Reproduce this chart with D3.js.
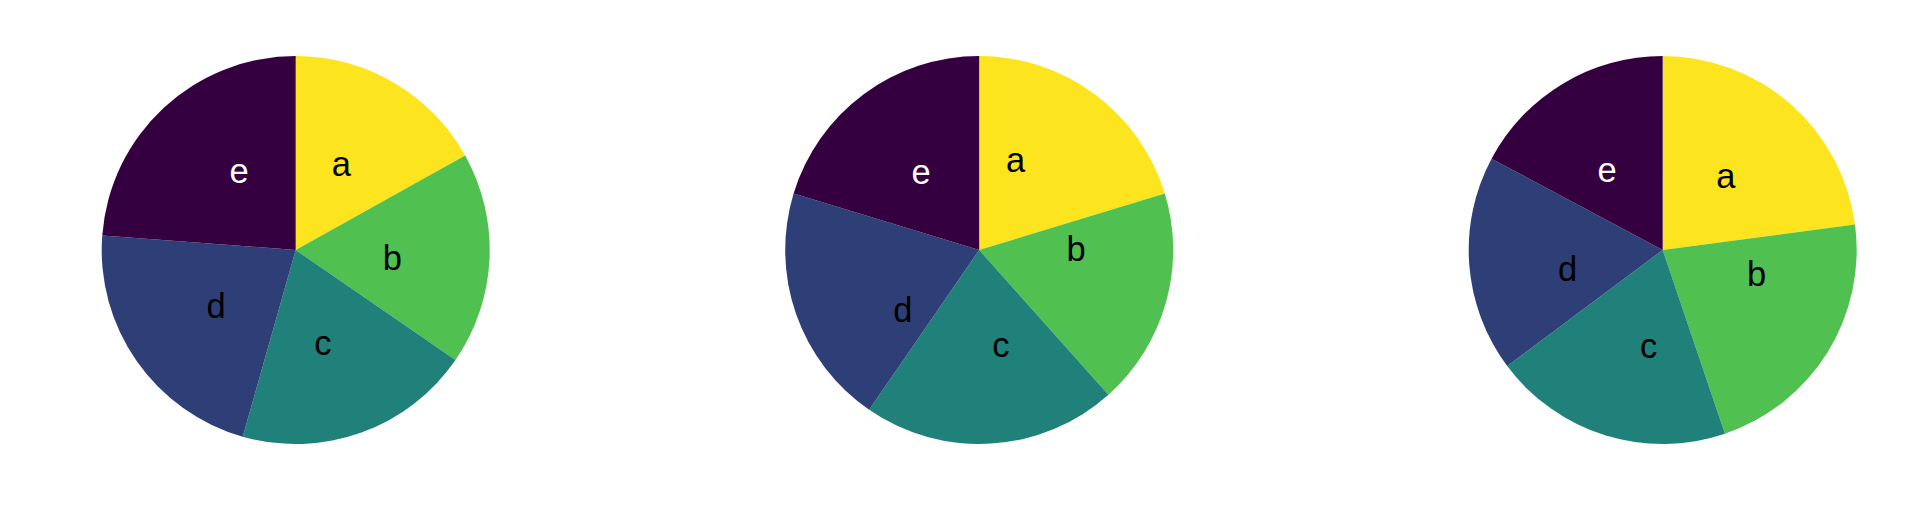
<!DOCTYPE html>
<html>
<head>
<meta charset="utf-8">
<script src="https://cdn.jsdelivr.net/npm/d3@7"></script>
<style>
  html, body { margin: 0; padding: 0; background: #ffffff; }
  svg { display: block; }
</style>
</head>
<body>
<svg id="chart" width="1920" height="506"></svg>
<script>
// ---- data ----
const categories = ["a", "b", "c", "d", "e"];
const pie1Values = [16.9, 17.7, 19.8, 21.8, 23.8];
const pie2Values = [20.3, 18.1, 21.2, 20.1, 20.3];
const pie3Values = [22.9, 21.9, 20.0, 18.0, 17.2];
// where each label sits, as a fraction of the full turn (clockwise from top)
const pie1LabelTurn = [0.078, 0.263, 0.455, 0.653, 0.901];
const pie2LabelTurn = [0.061, 0.248, 0.464, 0.644, 0.898];
const pie3LabelTurn = [0.113, 0.290, 0.523, 0.719, 0.903];

const pies = [
  { values: pie1Values, labelTurn: pie1LabelTurn },
  { values: pie2Values, labelTurn: pie2LabelTurn },
  { values: pie3Values, labelTurn: pie3LabelTurn }
];

// ---- styles ----
const colors = ["#fce51f", "#50c050", "#20807a", "#2e3f78", "#35003f"];
const labelColors = ["#000000", "#000000", "#000000", "#000000", "#ffffff"];

const W = 1920, H = 506;
const R = 194;
const cy = 250;

const svg = d3.select("#chart");

const xCenter = d3.scalePoint()
  .domain(d3.range(pies.length))
  .range([295.7, 1662.7]);

const color = d3.scaleOrdinal().domain(categories).range(colors);
const labelColor = d3.scaleOrdinal().domain(categories).range(labelColors);
const turn = d3.scaleLinear().domain([0, 1]).range([0, 2 * Math.PI]);

const pieGen = d3.pie().sort(null).value(d => d.v).startAngle(0).endAngle(2 * Math.PI);
const arcGen = d3.arc().innerRadius(0).outerRadius(R);

pies.forEach((p, i) => {
  const g = svg.append("g")
    .attr("transform", `translate(${xCenter(i)},${cy})`);
  const rows = categories.map((c, k) => ({ c, v: p.values[k], t: p.labelTurn[k] }));
  const arcs = pieGen(rows);

  g.selectAll("path.slice")
    .data(arcs)
    .join("path")
    .attr("class", "slice")
    .attr("d", arcGen)
    .attr("fill", d => color(d.data.c));

  g.selectAll("text.lbl")
    .data(arcs)
    .join("text")
    .attr("class", "lbl")
    .attr("transform", d => {
      const [x, y] = d3.pointRadial(turn(d.data.t), R * 0.5);
      return `translate(${x},${y})`;
    })
    .attr("text-anchor", "middle")
    .attr("dominant-baseline", "central")
    .attr("font-family", "'Liberation Sans', Arial, sans-serif")
    .attr("font-size", 34.5)
    .attr("fill", d => labelColor(d.data.c))
    .text(d => d.data.c);
});
</script>
</body>
</html>
